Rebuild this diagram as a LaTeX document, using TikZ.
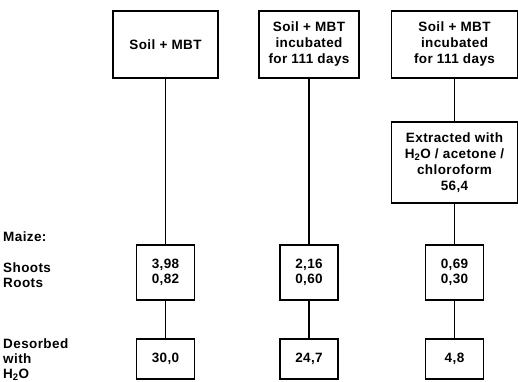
\documentclass[tikz,border=0pt]{standalone}
\usepackage{fontspec}
\setmainfont{Liberation Sans}[LetterSpace=3]
\usepackage{tikz}
\usetikzlibrary{positioning}

\begin{document}
\begin{tikzpicture}[x=1pt, y=1pt, node distance=100pt,
            font=\fontsize{13.5}{16}\selectfont\bfseries,
            block/.style={draw, rectangle, line width=1.5pt, inner sep=0pt, align=center, minimum height=67pt},
            small/.style={block, minimum width=58pt, minimum height=55pt, font=\fontsize{13.5}{15}\selectfont\bfseries},
            lbl/.style={anchor=base west, inner sep=0pt},
            line/.style={line width=1.6pt}]

            \useasboundingbox (0,0) rectangle (518,381);

            % top row
            \node[block, minimum width=105pt] (soil) at (165.5,336.5) {Soil + MBT};
            \node[block, minimum width=100pt] (inc) at (309,336.5) {Soil + MBT\\incubated\\for 111 days};
            \node[block, minimum width=126pt] (incx) at (454.5,336.5) {Soil + MBT\\incubated\\for 111 days};
            \node[block, below of=incx, node distance=118pt, minimum width=126pt, minimum height=81pt] (extr) {Extracted with\\H\textsubscript{2}O / acetone /\\chloroform\\56,4};

            % maize
            \node[small, below of=soil, node distance=228pt] (maize1) {3,98\\0,82};
            \node[small, below of=inc, node distance=228pt] (maize2) {2,16\\0,60};
            \node[small, below of=extr, node distance=110pt] (maize3) {0,69\\0,30};

            % desorbed
            \node[small, below of=maize1, node distance=86.5pt, minimum height=40pt] (des1) {30,0};
            \node[small, below of=maize2, node distance=86.5pt, minimum height=40pt] (des2) {24,7};
            \node[small, below of=maize3, node distance=86.5pt, minimum height=40pt] (des3) {4,8};

            % row labels
            \node[lbl] (lmaize) at (3,140) {Maize:};
            \node[lbl] (lshoot) at (3,109) {Shoots};
            \node[lbl] (lroot) at (3,94) {Roots};
            \node[lbl] (ldes) at (3,33) {Desorbed};
            \node[lbl] (lwith) at (3,18) {with};
            \node[lbl] (lwater) at (3,3) {H\textsubscript{2}O};

            \draw[line] (soil) -- (maize1);
            \draw[line] (maize1) -- (des1);
            \draw[line] (inc) -- (maize2);
            \draw[line] (maize2) -- (des2);
            \draw[line] (incx) -- (extr);
            \draw[line] (extr) -- (maize3);
            \draw[line] (maize3) -- (des3);
        \end{tikzpicture}
\end{document}
